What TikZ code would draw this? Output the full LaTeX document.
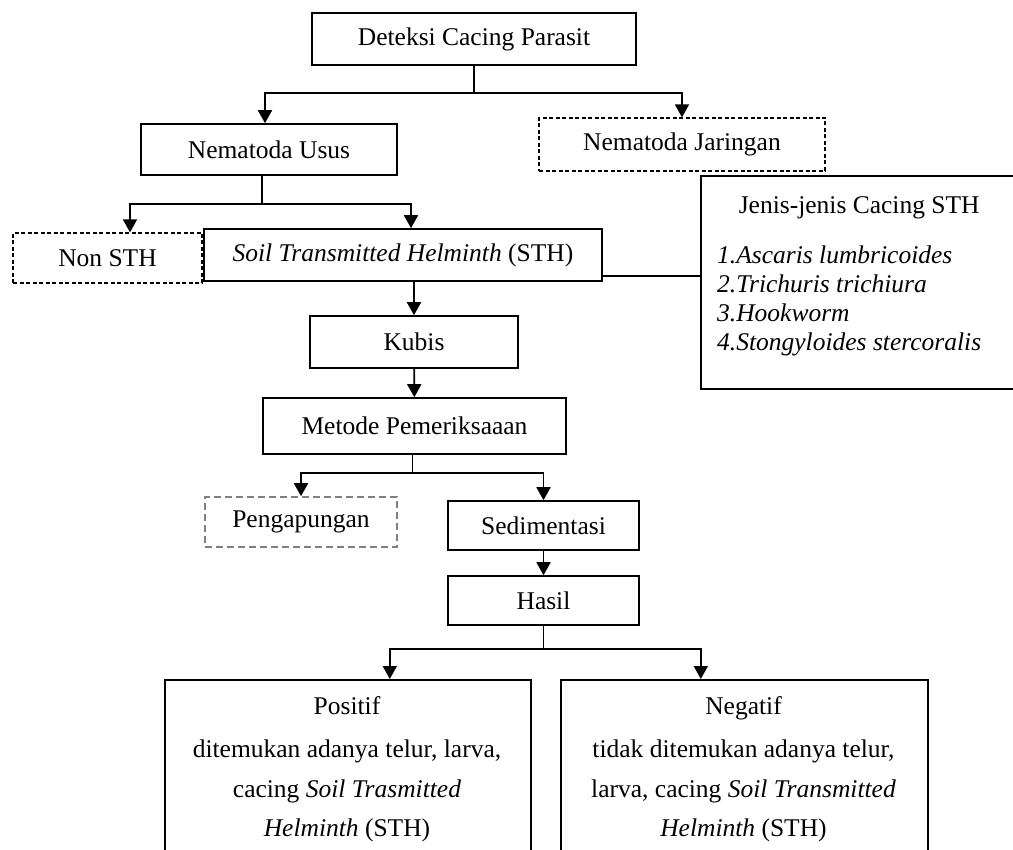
\documentclass[tikz,border=0pt]{standalone}
\usepackage{fontspec}
\setmainfont{Liberation Serif}
\usetikzlibrary{arrows.meta,calc}

\begin{document}
\begin{tikzpicture}[x=1pt,y=-1pt,
  font=\fontsize{25.5}{30}\selectfont,
  kotak/.style={draw,line width=1.6pt,inner sep=0pt,align=center},
  putus/.style={kotak,line width=1.3pt,dash pattern=on 4pt off 2.5pt},
  putusabu/.style={kotak,draw=gray,dash pattern=on 7pt off 4pt},
  garis/.style={line width=1.8pt},
  panah/.style={garis,-{Triangle[width=14pt,length=13pt]}}]
  \useasboundingbox (0,0) rectangle (1013,850);
  \clip (0,0) rectangle (1013,850);

  \node[kotak,minimum width=324pt,minimum height=52pt] (deteksi) at (474,39) {Deteksi Cacing Parasit};
  \node[kotak,minimum width=256pt,minimum height=51pt] (usus) at (269,149.5) {Nematoda Usus};
  \node[putus,minimum width=286pt,minimum height=53pt] (jaringan) at (682,144.5) {Nematoda Jaringan};
  %jenis cacing
  \node[kotak,minimum width=340pt,minimum height=213pt,anchor=north west] (jenis) at (700,175) {};
  \node[anchor=north west,align=left,inner sep=0pt,font=\fontsize{25.5}{29.2}\selectfont] (jenistxt) at (717,196)
    {\makebox[284pt][c]{Jenis-jenis Cacing STH}\\[21pt]
     \textit{1.Ascaris lumbricoides}\\
     \textit{2.Trichuris trichiura}\\
     \textit{3.Hookworm}\\
     \textit{4.Stongyloides stercoralis}};
  \node[putus,minimum width=189pt,minimum height=50pt] (nonsth) at (107.5,258) {Non STH};
  \node[kotak,minimum width=398pt,minimum height=52pt] (sth) at (403,255) {\textit{Soil Transmitted Helminth} (STH)};
  \node[kotak,minimum width=208pt,minimum height=52pt] (kubis) at (414,342) {Kubis};
  \node[kotak,minimum width=303pt,minimum height=56pt] (metode) at (414.5,426) {Metode Pemeriksaaan};
  \node[putusabu,minimum width=192pt,minimum height=50pt] (pengapungan) at (301,522) {Pengapungan};
  \node[kotak,minimum width=191pt,minimum height=49pt] (sedimentasi) at (543.5,525.5) {Sedimentasi};
  \node[kotak,minimum width=191pt,minimum height=49pt] (hasil) at (543.5,600.5) {Hasil};
  %hasil
  \node[kotak,minimum width=366pt,minimum height=220pt,anchor=north west] (posbox) at (164,679) {};
  \node[anchor=north,align=center,inner sep=0pt,font=\fontsize{25.5}{39.5}\selectfont] (postxt) at (347,696)
    {Positif\\[4pt]
     ditemukan adanya telur, larva,\\
     cacing \textit{Soil Trasmitted}\\
     \textit{Helminth} (STH)};
  \node[kotak,minimum width=367pt,minimum height=220pt,anchor=north west] (negbox) at (560,679) {};
  \node[anchor=north,align=center,inner sep=0pt,font=\fontsize{25.5}{39.5}\selectfont] (negtxt) at (743.5,696)
    {Negatif\\[4pt]
     tidak ditemukan adanya telur,\\
     larva, cacing \textit{Soil Transmitted}\\
     \textit{Helminth} (STH)};

  %connectors
  \coordinate (c1) at ($(deteksi.south)+(0,27)$);
  \draw[garis] (deteksi.south) -- (c1);
  \draw[panah] (c1) -| ([xshift=-4pt]usus.north);
  \draw[panah] (c1) -| (jaringan.north);
  \coordinate (c2) at ($(usus.south)+(-7,28)$);
  \draw[garis] (usus.south -| c2) -- (c2);
  \draw[panah] (c2) -| ([xshift=22.5pt]nonsth.north);
  \draw[panah] (c2) -| ([xshift=8pt]sth.north);
  \draw[garis] ([yshift=-21pt]sth.east) -- ([yshift=-21pt]sth.east -| jenis.west);
  \draw[panah] (sth.south -| kubis.north) -- (kubis.north);
  \draw[panah] (kubis) -- (metode);
  \coordinate (c3) at ($(metode.south)+(-2,18)$);
  \draw[garis] (metode.south -| c3) -- (c3);
  \draw[panah] (c3) -| (pengapungan.north);
  \draw[panah] (c3) -| (sedimentasi.north);
  \draw[panah] (sedimentasi) -- (hasil);
  \coordinate (c4) at ($(hasil.south)+(0,23)$);
  \draw[garis] (hasil.south) -- (c4);
  \draw[panah] (c4) -| ([xshift=42pt]posbox.north);
  \draw[panah] (c4) -| ([xshift=-43.5pt]negbox.north);
\end{tikzpicture}
\end{document}
